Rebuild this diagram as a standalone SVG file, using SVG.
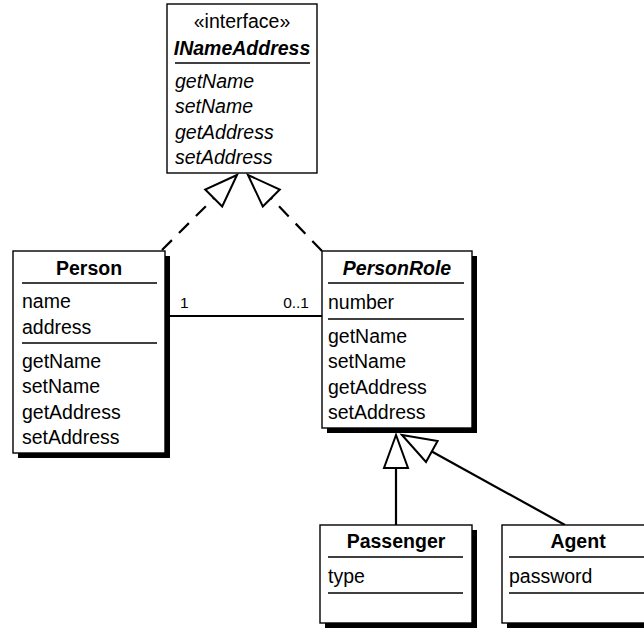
<svg xmlns="http://www.w3.org/2000/svg" width="644" height="630" viewBox="0 0 644 630">
  <style>
    text { font-family: "Liberation Sans", Arial, sans-serif; font-size: 19.5px; fill: #000; }
    .name { font-weight: bold; text-anchor: middle; }
    .abstract { font-weight: bold; font-style: italic; text-anchor: middle; }
    .ital { font-style: italic; }
    .stereo { text-anchor: middle; }
    .mult { font-size: 15.5px; }
    .box { fill: #fff; stroke: #000; stroke-width: 1.4; }
    .shadow { fill: #000; }
    .div { stroke: #000; stroke-width: 1.4; }
    .edge { fill: none; stroke: #000; stroke-width: 2.2; }
    .dash { stroke-dasharray: 14 10; }
    .head { fill: #fff; stroke: #000; stroke-width: 2; stroke-linejoin: miter; }
  </style>

  <!-- connectors -->
  <g id="connectors">
    <!-- realization: Person -> INameAddress -->
    <line class="edge dash" x1="162" y1="250" x2="213.7" y2="198.3"/>
    <polygon class="head" points="237,175 205.2,189.5 222.2,206.5"/>
    <!-- realization: PersonRole -> INameAddress -->
    <line class="edge dash" x1="322" y1="251" x2="271.3" y2="198.3"/>
    <polygon class="head" points="248,175 262.8,206.5 279.8,189.5"/>
    <!-- association Person - PersonRole -->
    <line class="edge" x1="165" y1="316" x2="322" y2="316"/>
    <text class="mult" x="180" y="308">1</text>
    <text class="mult" x="309" y="308" text-anchor="end">0..1</text>
    <!-- generalization: Passenger -> PersonRole -->
    <line class="edge" x1="396" y1="525" x2="396" y2="468"/>
    <polygon class="head" points="396,435 384,468 408,468"/>
    <!-- generalization: Agent -> PersonRole -->
    <line class="edge" x1="565" y1="525" x2="431.8" y2="451.5"/>
    <polygon class="head" points="402,435 426,462 437.6,441"/>
  </g>

  <!-- interface -->
  <g id="INameAddress">
    <rect class="box" x="167" y="4" width="150" height="169"/>
    <text class="stereo" x="242" y="28">«interface»</text>
    <text class="abstract" x="242" y="55">INameAddress</text>
    <line class="div" x1="175" y1="63" x2="310" y2="63"/>
    <text class="ital" x="175" y="88">getName</text>
    <text class="ital" x="175" y="113">setName</text>
    <text class="ital" x="175" y="139">getAddress</text>
    <text class="ital" x="175" y="164">setAddress</text>
  </g>

  <!-- Person -->
  <g id="Person">
    <rect class="shadow" x="18" y="256" width="152" height="202"/>
    <rect class="box" x="13" y="251" width="152" height="202"/>
    <text class="name" x="89" y="275">Person</text>
    <line class="div" x1="22" y1="283" x2="157" y2="283"/>
    <text x="22" y="308">name</text>
    <text x="22" y="334">address</text>
    <line class="div" x1="22" y1="343" x2="157" y2="343"/>
    <text x="22" y="368">getName</text>
    <text x="22" y="393">setName</text>
    <text x="22" y="419">getAddress</text>
    <text x="22" y="444">setAddress</text>
  </g>

  <!-- PersonRole -->
  <g id="PersonRole">
    <rect class="shadow" x="327" y="256" width="150" height="177"/>
    <rect class="box" x="322" y="251" width="150" height="177"/>
    <text class="abstract" x="397" y="275">PersonRole</text>
    <line class="div" x1="328" y1="283" x2="464" y2="283"/>
    <text x="328" y="309">number</text>
    <line class="div" x1="328" y1="319" x2="464" y2="319"/>
    <text x="328" y="343">getName</text>
    <text x="328" y="368">setName</text>
    <text x="328" y="394">getAddress</text>
    <text x="328" y="419">setAddress</text>
  </g>

  <!-- Passenger -->
  <g id="Passenger">
    <rect class="shadow" x="325" y="530" width="152" height="98"/>
    <rect class="box" x="320" y="525" width="152" height="98"/>
    <text class="name" x="396" y="548">Passenger</text>
    <line class="div" x1="328" y1="557" x2="463" y2="557"/>
    <text x="328" y="583">type</text>
    <line class="div" x1="328" y1="593" x2="463" y2="593"/>
  </g>

  <!-- Agent -->
  <g id="Agent">
    <rect class="shadow" x="507" y="530" width="152" height="98"/>
    <rect class="box" x="502" y="525" width="152" height="98"/>
    <text class="name" x="578" y="548">Agent</text>
    <line class="div" x1="509" y1="557" x2="646" y2="557"/>
    <text x="509" y="583">password</text>
    <line class="div" x1="509" y1="593" x2="646" y2="593"/>
  </g>
</svg>
